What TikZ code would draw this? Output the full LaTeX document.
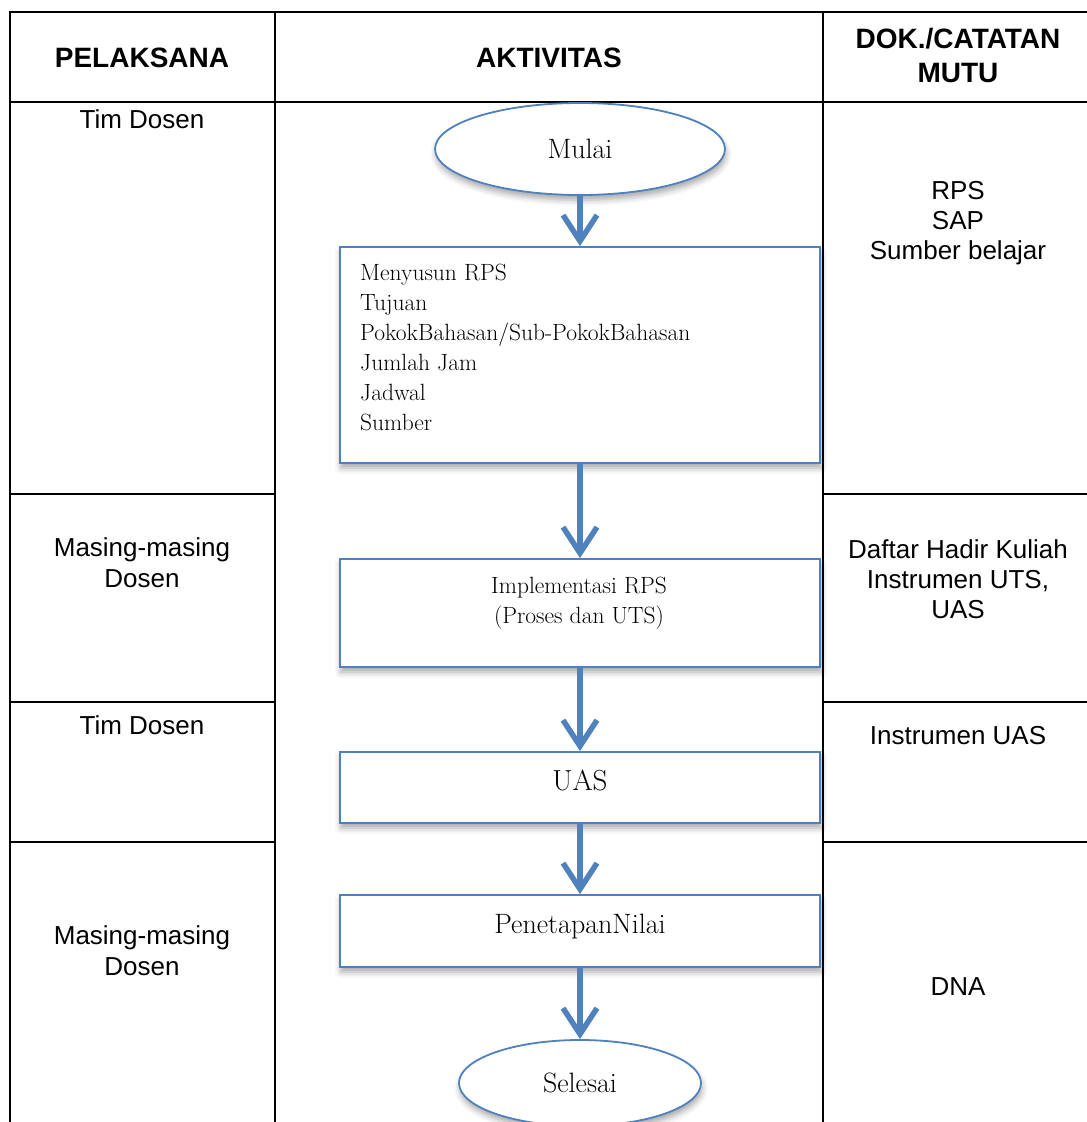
\documentclass[tikz,border=0pt]{standalone}
\usepackage{fontspec}
\newfontfamily\arialf{Liberation Sans}
\usetikzlibrary{arrows.meta,shapes.geometric,shadows.blur}
\definecolor{flowblue}{HTML}{4F81BD}
\begin{document}
\begin{tikzpicture}[x=1pt,y=-1pt,
  grid/.style={line width=2.6pt,black,line cap=rect},
  hd/.style={font=\arialf\bfseries\fontsize{28}{33}\selectfont, anchor=base, inner sep=0pt},
  cell/.style={font=\arialf\fontsize{26}{31}\selectfont, anchor=base, inner sep=0pt},
  boxshadow/.style={blur shadow={shadow xshift=1pt, shadow yshift=-5pt, shadow blur radius=6pt, shadow opacity=35}},
  flowbox/.style={draw=flowblue, line width=1.8pt, fill=white, rectangle, minimum width=480pt, inner sep=0pt, boxshadow},
  term/.style={draw=flowblue, line width=1.8pt, fill=white, ellipse, inner sep=0pt, boxshadow, font=\fontsize{28}{33}\selectfont},
  ftext/.style={font=\fontsize{23.5}{30}\selectfont, inner sep=0pt},
  flow/.style={draw=flowblue, line width=5.5pt, -{Straight Barb[length=26pt,width=34pt]}}
]
\useasboundingbox (0,0) rectangle (1087,1122);
% table grid
\draw[grid] (10,12) -- (1087,12);
\draw[grid] (10,102) -- (1087,102);
\draw[grid] (10,12) -- (10,1130);
\draw[grid] (275,12) -- (275,1130);
\draw[grid] (823,12) -- (823,1130);
\draw[grid] (10,494) -- (275,494);
\draw[grid] (823,494) -- (1087,494);
\draw[grid] (10,702) -- (275,702);
\draw[grid] (823,702) -- (1087,702);
\draw[grid] (10,842) -- (275,842);
\draw[grid] (823,842) -- (1087,842);
% headers
\node[hd] (h1) at (142,67) {PELAKSANA};
\node[hd] (h2) at (549,67) {AKTIVITAS};
\node[hd] (h3a) at (958,48) {DOK./CATATAN};
\node[hd] (h3b) at (958,82) {MUTU};
% left column
\node[cell] (p1) at (142,128) {Tim Dosen};
\node[cell] (p2a) at (142,556) {Masing-masing};
\node[cell] (p2b) at (142,587) {Dosen};
\node[cell] (p3) at (142,734) {Tim Dosen};
\node[cell] (p4a) at (142,944) {Masing-masing};
\node[cell] (p4b) at (142,975) {Dosen};
% right column
\node[cell] (d1a) at (958,199) {RPS};
\node[cell] (d1b) at (958,229) {SAP};
\node[cell] (d1c) at (958,259) {Sumber belajar};
\node[cell] (d2a) at (958,558) {Daftar Hadir Kuliah};
\node[cell] (d2b) at (958,588) {Instrumen UTS,};
\node[cell] (d2c) at (958,618) {UAS};
\node[cell] (d3) at (958,744) {Instrumen UAS};
\node[cell] (d4) at (958,995) {DNA};
% flow
\node[term, minimum width=290pt, minimum height=92pt] (mulai) at (580,149) {Mulai};
\node[flowbox, minimum height=216pt] (b1) at (580,355) {};
\node[flowbox, minimum height=108pt] (b2) at (580,613) {};
\node[flowbox, text height=38pt, text depth=33pt, font=\fontsize{29}{34}\selectfont] (b3) at (580,787.5) {UAS};
\node[flowbox, text height=38pt, text depth=34pt, font=\fontsize{28}{33}\selectfont] (b4) at (580,931) {PenetapanNilai};
\node[term, minimum width=242pt, minimum height=86pt] (selesai) at (580,1083) {Selesai};
% box texts
\node[ftext, anchor=base west] (t1) at (360,280) {Menyusun RPS};
\node[ftext, anchor=base west] (t2) at (360,310) {Tujuan};
\node[ftext, anchor=base west] (t3) at (360,340) {PokokBahasan/Sub-PokokBahasan};
\node[ftext, anchor=base west] (t4) at (360,370) {Jumlah Jam};
\node[ftext, anchor=base west] (t5) at (360,400) {Jadwal};
\node[ftext, anchor=base west] (t6) at (360,430) {Sumber};
\node[ftext, anchor=base] (t7) at (579,593) {Implementasi RPS};
\node[ftext, anchor=base] (t8) at (579,623) {(Proses dan UTS)};
% connectors
\draw[flow] (mulai.south) -- (b1.north);
\draw[flow] (b1.south) -- (b2.north);
\draw[flow] (b2.south) -- (b3.north);
\draw[flow] (b3.south) -- (b4.north);
\draw[flow] (b4.south) -- (selesai.north);
\end{tikzpicture}
\end{document}
